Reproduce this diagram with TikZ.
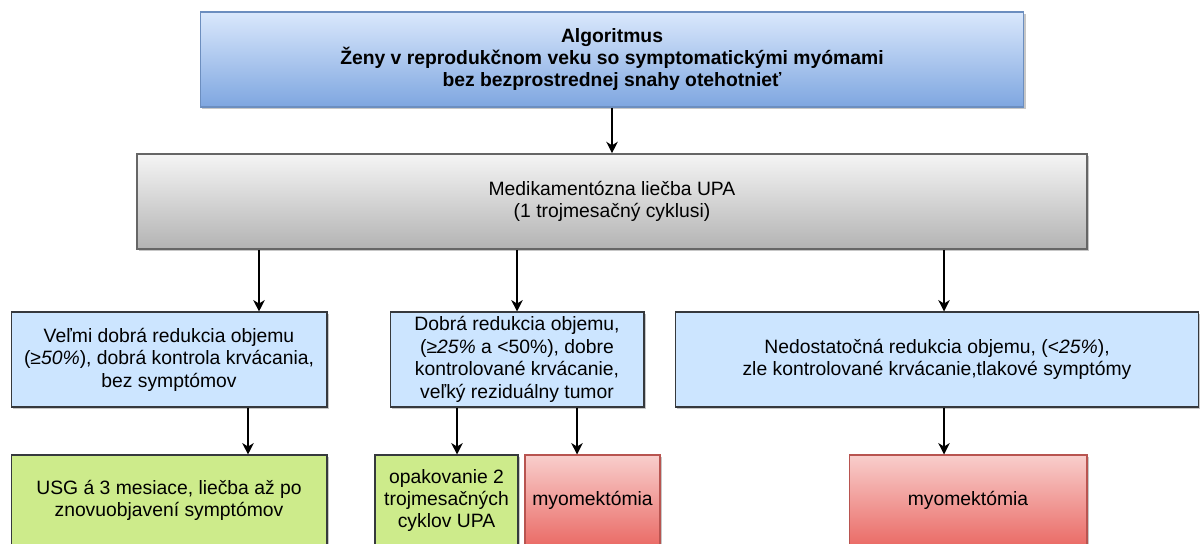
\documentclass[tikz,border=0pt]{standalone}
\usepackage{fontspec}
\setmainfont{Liberation Sans}
\usetikzlibrary{arrows.meta,shadows}

\definecolor{blueTop}{HTML}{DAE8FC}
\definecolor{blueBot}{HTML}{7EA6E0}
\definecolor{blueLine}{HTML}{6C8EBF}
\definecolor{grayTop}{HTML}{F5F5F5}
\definecolor{grayBot}{HTML}{B3B3B3}
\definecolor{grayLine}{HTML}{666666}
\definecolor{paleBlue}{HTML}{CCE5FF}
\definecolor{darkLine}{HTML}{36393D}
\definecolor{paleGreen}{HTML}{CDEB8B}
\definecolor{redTop}{HTML}{F8CECC}
\definecolor{redBot}{HTML}{EA6B66}
\definecolor{redLine}{HTML}{B85450}

\tikzset{
  box/.style={rectangle, inner sep=0pt, align=center, line width=0.6pt,
    font=\fontsize{11}{12.8}\selectfont,
    drop shadow={shadow xshift=1.3pt, shadow yshift=-1.3pt, opacity=0.22, fill=black}},
  titlebox/.style={box, draw=blueLine, top color=blueTop, bottom color=blueBot,
    font=\fontsize{11}{12.8}\selectfont\bfseries},
  treatbox/.style={box, draw=grayLine, line width=0.9pt, top color=grayTop, bottom color=grayBot},
  resultbox/.style={box, draw=darkLine, fill=paleBlue},
  waitbox/.style={box, draw=darkLine, fill=paleGreen},
  surgerybox/.style={box, draw=redLine, top color=redTop, bottom color=redBot},
  arr/.style={draw=black, line width=0.6pt, -{Stealth[length=6.5pt, width=6.5pt, inset=2pt]}},
}

\begin{document}
\begin{tikzpicture}[x=0.02cm, y=-0.02cm]
  \useasboundingbox (0,0) rectangle (1200,544);
  \clip (0,0) rectangle (1200,544);

  % top: target group
  \node[titlebox, minimum width=16.48cm, minimum height=1.9cm] (alg) at (612,59.5)
    {Algoritmus\\Ženy v reprodukčnom veku so symptomatickými myómami\\bez bezprostrednej snahy otehotnieť};

  % first-line treatment
  \node[treatbox, minimum width=19cm, minimum height=1.9cm] (upa) at (612,201.5)
    {Medikamentózna liečba UPA\\(1 trojmesačný cyklusi)};

  % response after one cycle
  \node[resultbox, minimum width=6.32cm, minimum height=1.9cm] (vgood) at (169,359.5)
    {Veľmi dobrá redukcia objemu\\(≥\textit{50\%}), dobrá kontrola krvácania,\\bez symptómov};
  \node[resultbox, minimum width=5.08cm, minimum height=1.9cm] (good) at (517,359.5)
    {Dobrá redukcia objemu,\\(≥\textit{25\%} a <50\%), dobre\\kontrolované krvácanie,\\veľký reziduálny tumor};
  \node[resultbox, minimum width=10.48cm, minimum height=1.9cm] (poor) at (937,359.5)
    {Nedostatočná redukcia objemu, (<\textit{25\%}),\\zle kontrolované krvácanie,tlakové symptómy};

  % follow-up options
  \node[waitbox, minimum width=6.32cm, minimum height=1.82cm] (usg) at (169,500.5)
    {USG á 3 mesiace, liečba až po\\znovuobjavení symptómov};
  \node[waitbox, minimum width=2.86cm, minimum height=1.82cm] (repeat) at (446.5,500.5)
    {opakovanie 2\\trojmesačných\\cyklov UPA};
  \node[surgerybox, minimum width=2.7cm, minimum height=1.82cm] (myo1) at (592.5,500.5)
    {myomektómia};
  \node[surgerybox, minimum width=4.76cm, minimum height=1.82cm] (myo2) at (968,500.5)
    {myomektómia};

  % connectors
  \draw[arr] (alg.south) -- (upa.north);
  \draw[arr] (upa.south -| 259,0) -- (vgood.north -| 259,0);
  \draw[arr] (upa.south -| good.north) -- (good.north);
  \draw[arr] (upa.south -| 944,0) -- (poor.north -| 944,0);
  \draw[arr] (vgood.south -| 248,0) -- (usg.north -| 248,0);
  \draw[arr] (good.south -| 457,0) -- (repeat.north -| 457,0);
  \draw[arr] (good.south -| 577,0) -- (myo1.north -| 577,0);
  \draw[arr] (poor.south -| 944,0) -- (myo2.north -| 944,0);
\end{tikzpicture}
\end{document}
